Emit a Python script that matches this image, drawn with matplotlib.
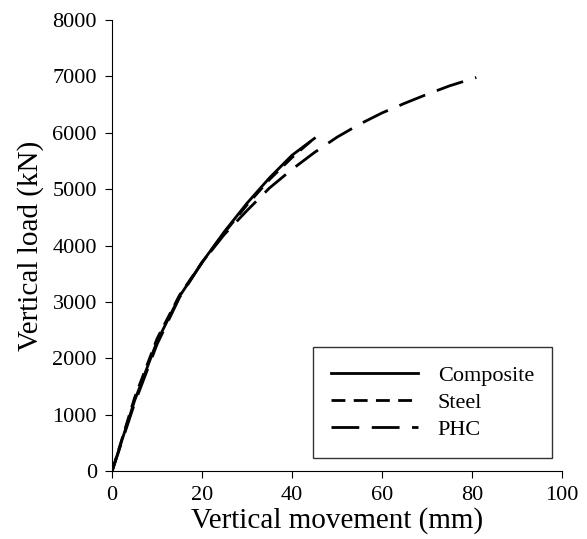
import matplotlib.pyplot as plt

plt.rcParams['font.family'] = ['Liberation Serif', 'DejaVu Serif']

# Composite pile
comp_x = [0, 5, 10, 15, 20, 25, 30, 35, 40, 45]
comp_y = [0, 1250, 2300, 3100, 3700, 4250, 4750, 5200, 5600, 5900]

# Steel pile
steel_x = [0, 5, 10, 15, 20, 25, 30, 35, 40, 44.5]
steel_y = [0, 1300, 2350, 3120, 3700, 4230, 4720, 5170, 5560, 5870]

# PHC pile
phc_x = [0, 5, 10, 15, 20, 25, 30, 35, 40, 45, 50, 55, 60, 65, 70, 75, 81]
phc_y = [0, 1200, 2250, 3080, 3700, 4200, 4620, 5020, 5350, 5650, 5920, 6150,
         6350, 6520, 6680, 6830, 6980]

fig = plt.figure(figsize=(5.87, 5.39), dpi=100)
ax = fig.add_axes([0.191, 0.126, 0.766, 0.837])

ax.plot(comp_x, comp_y, color='black', lw=2, label='Composite')
ax.plot(steel_x, steel_y, color='black', lw=2, dashes=(5, 3), label='Steel')
ax.plot(phc_x, phc_y, color='black', lw=2, dashes=(10, 4.5), label='PHC')

ax.set_xlim(0, 100)
ax.set_ylim(0, 8000)
ax.set_xticks(range(0, 101, 20))
ax.set_yticks(range(0, 8001, 1000))
ax.spines['top'].set_visible(False)
ax.spines['right'].set_visible(False)
ax.tick_params(direction='out', labelsize=16, length=5, width=0.8)
ax.tick_params(axis='x', pad=6)
ax.tick_params(axis='y', pad=6)
ax.set_xlabel('Vertical movement (mm)', fontsize=21, labelpad=1)
ax.set_ylabel('Vertical load (kN)', fontsize=21, labelpad=6)

leg = ax.legend(loc='lower right', bbox_to_anchor=(0.978, 0.029), fontsize=16,
                frameon=True, fancybox=False, edgecolor='black',
                handlelength=3.9, borderpad=0.8, labelspacing=0.3,
                handletextpad=0.9, borderaxespad=0)
leg.get_frame().set_linewidth(1)

fig.savefig('out.png', dpi=100)
